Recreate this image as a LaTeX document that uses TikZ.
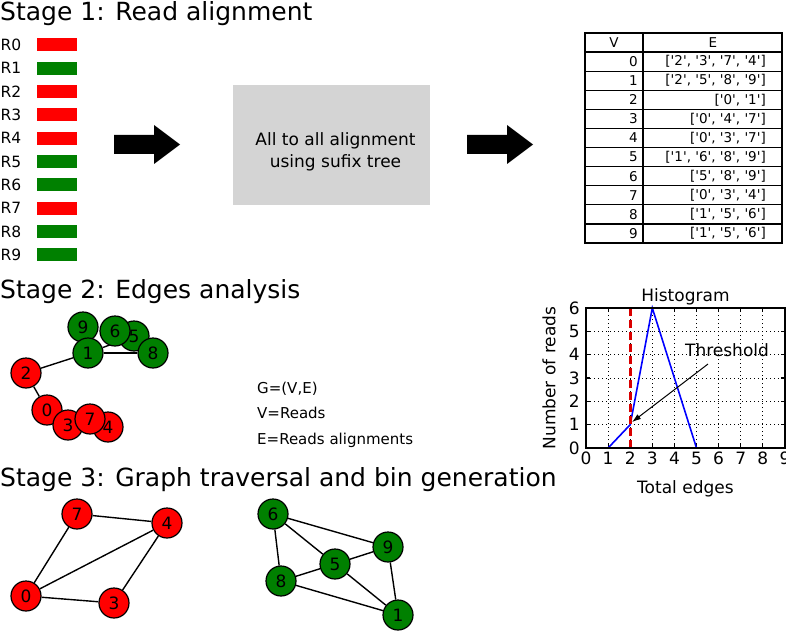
\documentclass[tikz,border=0pt]{standalone}
\usepackage{fontspec}
\setmainfont{DejaVu Sans}
\usepackage{tikz}
\usetikzlibrary{calc,arrows.meta}
\pgfdeclarelayer{back}
\pgfsetlayers{back,main}
\def\fs#1{\fontsize{#1}{#1}\selectfont}
\def\q#1{\textquotesingle#1\textquotesingle}
\def\fatarrow(#1,#2){\fill[black,shift={(#1,#2)}] (0,-9.5) -- (40,-9.5) -- (40,-19.5) -- (66,0) -- (40,19.5) -- (40,9.5) -- (0,9.5) -- cycle;}
\tikzset{
	stagetitle/.style={anchor=base west, inner sep=0pt, font=\fs{25}},
	readlabel/.style={anchor=west, inner sep=0pt, font=\fs{15.5}},
	readbar/.style={minimum width=40pt, minimum height=13pt, inner sep=0pt},
	procbox/.style={fill=black!17, minimum width=197pt, minimum height=120pt, inner sep=0pt},
	cell/.style={draw, line width=1.3pt},
	celltext/.style={inner sep=0pt, font=\fs{13.5}},
	vnode/.style={circle, draw, line width=1.2pt, minimum size=30pt, inner sep=0pt, font=\fs{17}},
	rnode/.style={vnode, fill=red},
	gnode/.style={vnode, fill=green!50!black},
	link/.style={line width=1.4pt},
	infotext/.style={anchor=base west, inner sep=0pt, font=\fs{15}},
	plotlabel/.style={inner sep=1pt, font=\fs{17}},
	gridline/.style={line width=0.9pt, dash pattern=on 1pt off 3pt},
	axisline/.style={line width=1.2pt},
}

\begin{document}
\begin{tikzpicture}[x=1pt,y=-1pt]
		%%%%% START %%%%%
		\useasboundingbox (0,0) rectangle (786,631);
		
		% stage 1
		\node[stagetitle] (t1) at (0,21) {Stage 1: Read alignment};
		\foreach \r/\col in {0/red,1/green!50!black,2/red,3/red,4/red,5/green!50!black,6/green!50!black,7/red,8/green!50!black,9/green!50!black}{
			\node[readlabel] (r\r) at (0.5,{45+23.33*\r}) {R\r};
			\node[readbar, fill=\col] (bar\r) at (57,{45+23.33*\r}) {};
		}
		
		\fatarrow(114,144.5)
		\node[procbox] (proc) at (331.5,145) {};
		\node[align=center, inner sep=0pt, font=\fs{17}] (proctext) at ($(proc)+(4,7)$) {All to all alignment\\[5pt]using sufix tree};
		\fatarrow(467,144.5)
		
		\draw[cell] (585,33) rectangle (643,52.09);
		\draw[cell] (643,33) rectangle (782,52.09);
		\node[celltext] (hv) at (614,42.5) {V};
		\node[celltext] (he) at (713,42.5) {E};
		\foreach \v/\e [count=\i] in {0/{[\q2, \q3, \q7, \q4]},1/{[\q2, \q5, \q8, \q9]},2/{[\q0, \q1]},3/{[\q0, \q4, \q7]},4/{[\q0, \q3, \q7]},5/{[\q1, \q6, \q8, \q9]},6/{[\q5, \q8, \q9]},7/{[\q0, \q3, \q4]},8/{[\q1, \q5, \q6]},9/{[\q1, \q5, \q6]}}{
			\draw[cell] (585,{33+19.09*\i}) rectangle (643,{52.09+19.09*\i});
			\draw[cell] (643,{33+19.09*\i}) rectangle (782,{52.09+19.09*\i});
			\node[celltext, anchor=east] (tv\v) at (638,{42.5+19.09*\i}) {\v};
			\node[celltext, anchor=east] (te\v) at (766,{42.5+19.09*\i}) {\e};
		}
		
		% stage 2
		\node[stagetitle] (t2) at (0,298) {Stage 2: Edges analysis};
		\node[rnode] (a2) at (26,373) {2};
		\node[rnode] (a0) at (47,410) {0};
		\node[rnode] (a3) at (68,425) {3};
		\node[rnode] (a4) at (108,427) {4};
		\node[rnode] (a7) at (90,419) {7};
		\node[gnode] (a9) at (83,327) {9};
		\node[gnode] (a1) at (88,353) {1};
		\node[gnode] (a5) at (134,336) {5};
		\node[gnode] (a6) at (115,331) {6};
		\node[gnode] (a8) at (153,353) {8};
		\begin{pgfonlayer}{back}
			\draw[link] (a2) -- (a1);
			\draw[link] (a2) -- (a0);
			\draw[link] (a1) -- (a8);
			\draw[link] (a1) -- (a5);
		\end{pgfonlayer}
		
		\node[infotext] (gdef) at (257,393) {G=(V,E)};
		\node[infotext] (vdef) at (257,418.5) {V=Reads};
		\node[infotext] (edef) at (257,444) {E=Reads alignments};
		
		\begin{scope}[shift={(586,448)}, x=22.1pt, y=23.33pt]
			\foreach \i in {1,...,8} \draw[gridline] (\i,0) -- (\i,6);
			\foreach \j in {1,...,5} \draw[gridline] (0,\j) -- (9,\j);
			\foreach \i in {0,...,9}{
				\draw[axisline] (\i,0) -- ++(0,4pt);
				\draw[axisline] (\i,6) -- ++(0,-4pt);
				\node[plotlabel, anchor=north, yshift=-3pt] (xt\i) at (\i,0) {\i};
			}
			\foreach \j in {0,...,6}{
				\draw[axisline] (0,\j) -- ++(4pt,0);
				\draw[axisline] (9,\j) -- ++(-4pt,0);
				\node[plotlabel, anchor=east, xshift=-5pt] (yt\j) at (0,\j) {\j};
			}
			\draw[blue, line width=1.6pt] (1,0) -- (2,1) -- (3,6) -- (5,0);
			\draw[red!85!black, line width=2.6pt, dash pattern=on 8pt off 4pt] (2,0) -- (2,6);
			\draw[axisline] (0,0) rectangle (9,6);
			\node[plotlabel, anchor=base, yshift=7pt] (hist) at (4.5,6) {Histogram};
			\node[plotlabel, anchor=base, yshift=-45pt] (xlab) at (4.5,0) {Total edges};
			\node[plotlabel, rotate=90] (ylab) at ([xshift=-37pt]0,3) {Number of reads};
			\node[plotlabel] (thr) at (6.38,4.2) {Threshold};
			\coordinate (thrtail) at (5.52,3.6);
			\coordinate (thrhead) at (2.08,1.11);
			\draw[-{Latex[length=9pt,width=6pt]}, line width=1pt] (thrtail) -- (thrhead);
		\end{scope}
		
		% stage 3
		\node[stagetitle] (t3) at (0,486) {Stage 3: Graph traversal and bin generation};
		\node[rnode] (b7) at (77,514) {7};
		\node[rnode] (b4) at (167,523) {4};
		\node[rnode] (b0) at (26,596) {0};
		\node[rnode] (b3) at (114,603) {3};
		\draw[link] (b7) -- (b0);
		\draw[link] (b7) -- (b4);
		\draw[link] (b0) -- (b4);
		\draw[link] (b0) -- (b3);
		\draw[link] (b3) -- (b4);
		
		\node[gnode] (c6) at (273,514) {6};
		\node[gnode] (c9) at (388,547) {9};
		\node[gnode] (c5) at (335,564) {5};
		\node[gnode] (c8) at (281,581) {8};
		\node[gnode] (c1) at (398,615) {1};
		\draw[link] (c6) -- (c9);
		\draw[link] (c6) -- (c5);
		\draw[link] (c6) -- (c8);
		\draw[link] (c5) -- (c9);
		\draw[link] (c5) -- (c8);
		\draw[link] (c5) -- (c1);
		\draw[link] (c8) -- (c1);
		\draw[link] (c9) -- (c1);
		%%%%% END %%%%%
	\end{tikzpicture}
\end{document}
